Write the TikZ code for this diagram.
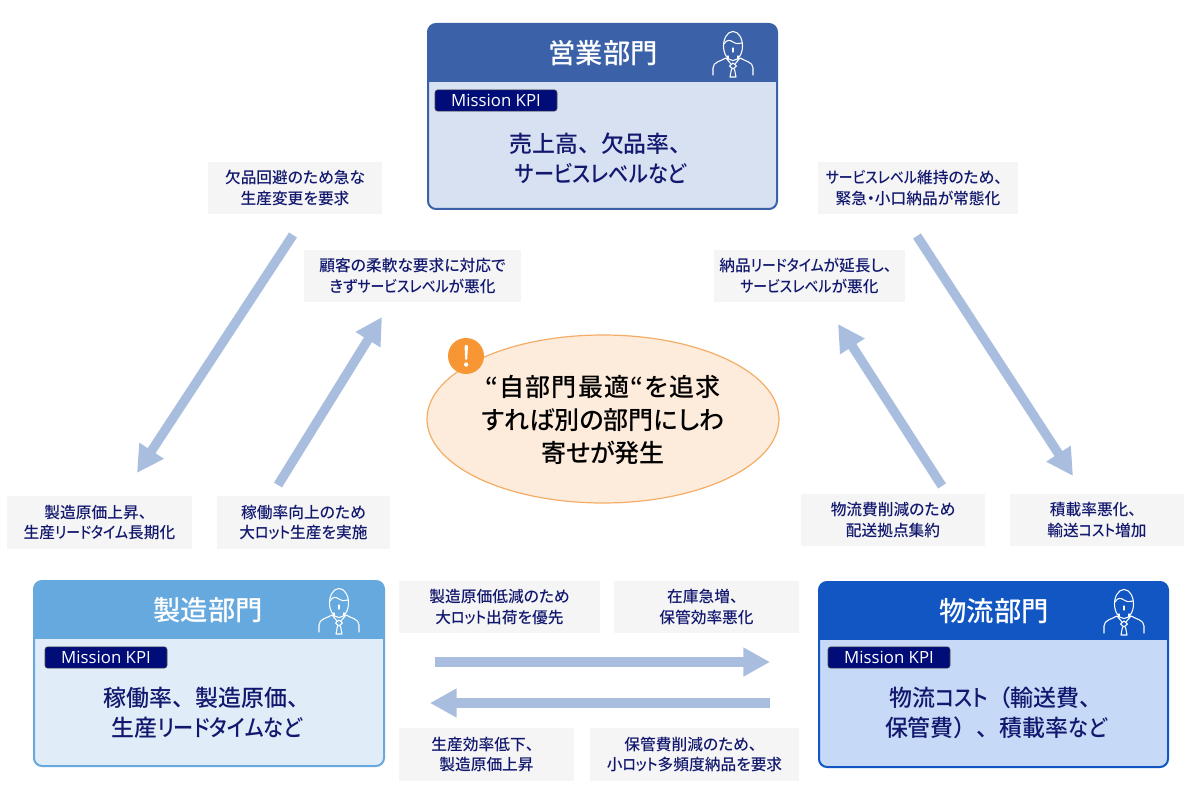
\documentclass[tikz,border=0pt]{standalone}
\usepackage{fontspec}
\setmainfont{Noto Sans CJK JP}
\newfontfamily\latinfont{Open Sans}
\usetikzlibrary{arrows.meta,calc,shapes.geometric}
\definecolor{navytext}{HTML}{12186E}
\definecolor{kpifill}{HTML}{000C78}
\definecolor{arrowblue}{HTML}{A9BEDF}
\definecolor{graybox}{HTML}{F5F5F5}
\definecolor{salesHead}{HTML}{3B62A8}
\definecolor{salesBody}{HTML}{D8E1F1}
\definecolor{mfgHead}{HTML}{66A9DE}
\definecolor{mfgBody}{HTML}{E0EDF8}
\definecolor{logHead}{HTML}{1156C2}
\definecolor{logBody}{HTML}{C6D9F7}
\definecolor{ellFill}{HTML}{FDEBDB}
\definecolor{ellLine}{HTML}{F4AD66}
\definecolor{badge}{HTML}{F79632}
\newfontfamily\cjkp[RawFeature=+palt]{Noto Sans CJK JP Medium}
\newfontfamily\cjkf{Noto Sans CJK JP Medium}
\newfontfamily\cjkl[RawFeature=+palt,LetterSpace=5]{Noto Sans CJK JP Medium}
\newfontfamily\cjkk[RawFeature=+palt,FakeStretch=0.88]{Noto Sans CJK JP Medium}
\newcommand{\K}[1]{{\cjkk #1}}
\newcommand{\ten}{{\cjkf 、}}
\tikzset{
  x=0.75pt,y=-0.75pt,
  lbl/.style={fill=graybox,draw=none,inner sep=0pt,align=center,text=navytext,
     font=\fontsize{11.8pt}{15.2pt}\cjkp},
  fat/.style={draw=arrowblue,line width=7pt,-{Triangle[length=20pt,width=20.5pt]}},
  kpi/.style={rounded corners=2pt,fill=kpifill,draw=black!70,line width=0.4pt,text=white,
     inner sep=0pt,font=\fontsize{12.6pt}{13pt}\latinfont},
  title/.style={text=white,font=\fontsize{20.5pt}{24pt}\cjkp,inner sep=0pt},
  body/.style={text=navytext,align=center,inner sep=0pt,font=\fontsize{17.2pt}{22.5pt}\cjkp},
  icon/.style={draw=white,line width=0.8pt,line cap=round,line join=round,fill=none},
}
\newcommand{\panel}[7]{%
  \fill[#6,rounded corners=6pt] (#1,#2) rectangle (#3,#4);
  \begin{scope}
    \clip[rounded corners=6pt] (#1,#2) rectangle (#3,#4);
    \fill[#7] (#1,#5) rectangle (#3,#4);
  \end{scope}
  \draw[#6,line width=1.5pt,rounded corners=6pt] (#1,#2) rectangle (#3,#4);
}
\newcommand{\person}[2]{%
  \begin{scope}[shift={(#1,#2)}]
    \draw[icon] (0,-1) ellipse [x radius=9.5,y radius=14.5];
    \draw[icon] (-9,-3) .. controls (-6,-8) and (-3,-7) .. (0,-5) .. controls (3,-3) and (6,-3) .. (9,-4);
    \draw[icon] (0,1) -- (0,5);
    \draw[icon] (-20,28) -- (-20,21) .. controls (-20,15) and (-12,14) .. (-7,11);
    \draw[icon] (20,28) -- (20,21) .. controls (20,15) and (12,14) .. (7,11);
    \draw[icon] (-7,11) -- (-2,17) (7,11) -- (2,17);
    \draw[icon] (-5,12) -- (-5,9) (5,12) -- (5,9);
    \draw[icon] (-3.5,19) -- (0,16) -- (3.5,19) -- (0,22) -- cycle;
    \draw[icon] (-3,30) -- (-1.5,22) (3,30) -- (1.5,22) (-3,30) -- (3,30);
  \end{scope}
}
\begin{document}
\begin{tikzpicture}
\useasboundingbox (0,0) rectangle (1200,802);
\fill[white] (0,0) rectangle (1200,802);

\panel{428}{24}{777}{209}{82}{salesHead}{salesBody}
\panel{34}{581}{384}{766}{639}{mfgHead}{mfgBody}
\panel{819}{582}{1168}{767}{640}{logHead}{logBody}

\node[title] (salesT) at (603,53) {営業部門};
\node[title] (mfgT) at (208,610) {製造部門};
\node[title] (logT) at (994,611) {物流部門};
\person{733}{47}
\person{339}{604}
\person{1124}{605}

\node[kpi,minimum width=91.5pt,minimum height=16pt] (kpiS) at (496,100.5) {Mission KPI};
\node[kpi,minimum width=91.5pt,minimum height=16pt] (kpiM) at (106,657.5) {Mission KPI};
\node[kpi,minimum width=91.5pt,minimum height=16pt] (kpiL) at (889,657.5) {Mission KPI};

\node[body] (bodyS) at (601,158) {売上高\ten 欠品率\ten\\\K{サービスレベルなど}};
\node[body] (bodyM) at (207,713) {稼働率\ten 製造原価\ten\\生産\K{リードタイムなど}};
\node[body] (bodyL) at (996,713) {物流\K{コスト}{\cjkf （}輸送費\ten\\保管費{\cjkf ）}\ten 積載率\K{など}};

\node[draw=ellLine,fill=ellFill,line width=0.9pt,ellipse,minimum width=264pt,minimum height=126pt,inner sep=0pt] (ell) at (603,419) {};
\node[font=\fontsize{18.8pt}{24.4pt}\cjkp,align=center,text=black,inner sep=0pt] (ellT) at (603,420) {{\cjkl “自部門最適“を追求}\\すれば別の部門にしわ\\寄せが発生};
\node[circle,fill=badge,minimum size=27pt,inner sep=0pt] (bad) at (466,356) {};
\fill[white,rounded corners=0.8pt] (464.5,345) -- (468,345) -- (467.2,360) -- (465.2,360) -- cycle;
\fill[white] (466.2,364.5) circle (2.2);

\node[lbl,minimum width=130.5pt,minimum height=39pt] (a1) at (295,188) {欠品回避のため急な\\生産変更を要求};
\node[lbl,minimum width=162.75pt,minimum height=39pt] (a2) at (412.5,276) {顧客の柔軟な要求に対応で\\きず\K{サービスレベル}が悪化};
\node[lbl,minimum width=143.25pt,minimum height=39pt] (a3) at (809.5,276) {納品\K{リードタイム}が延長し\ten\\\K{サービスレベル}が悪化};
\node[lbl,minimum width=150pt,minimum height=39pt] (a4) at (918,188) {\K{サービスレベル}維持のため\ten\\緊急・小口納品が常態化};
\node[lbl,minimum width=138.75pt,minimum height=39.75pt] (a5) at (99.5,522.5) {製造原価上昇\ten\\生産\K{リードタイム}長期化};
\node[lbl,minimum width=129.75pt,minimum height=39.75pt] (a6) at (303.5,522.5) {稼働率向上のため\\大\K{ロット}生産を実施};
\node[lbl,minimum width=138pt,minimum height=39pt] (a7) at (893,520) {物流費削減のため\\配送拠点集約};
\node[lbl,minimum width=130.5pt,minimum height=39pt] (a8) at (1097,520) {積載率悪化\ten\\輸送\K{コスト}増加};
\node[lbl,minimum width=150.75pt,minimum height=39pt] (a9) at (499.5,607) {製造原価低減のため\\大\K{ロット}出荷を優先};
\node[lbl,minimum width=138.75pt,minimum height=39pt] (a10) at (706.5,607) {在庫急増\ten\\保管効率悪化};
\node[lbl,minimum width=131.25pt,minimum height=39.75pt] (a11) at (486.5,754.5) {生産効率低下\ten\\製造原価上昇};
\node[lbl,minimum width=156.75pt,minimum height=39.75pt] (a12) at (694.5,754.5) {保管費削減のため\ten\\小\K{ロット}多頻度納品を要求};

\coordinate (s1) at (293,235); \coordinate (e1) at (137,473);
\coordinate (s2) at (278,485); \coordinate (e2) at (382,317);
\coordinate (s3) at (942,486); \coordinate (e3) at (838,324);
\coordinate (s4) at (917,236); \coordinate (e4) at (1073,476);
\coordinate (s5) at (435,662); \coordinate (e5) at (770,662);
\coordinate (s6) at (770,703); \coordinate (e6) at (430,703);
\foreach \i in {1,...,6} \draw[fat] (s\i) -- (e\i);
\end{tikzpicture}
\end{document}
